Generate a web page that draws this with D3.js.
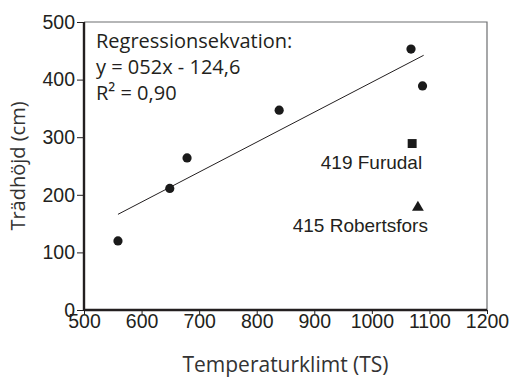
<!doctype html>
<html lang="sv">
<head>
<meta charset="utf-8">
<title>Trädhöjd och temperaturklimat</title>
<style>
    body { margin: 0; background: #fff; }
    svg { display: block; }
    .tick text { font-family: 'Liberation Sans', Arial, sans-serif; font-size: 19.5px; fill: #231f20; }
    .title { font-family: 'Open Sans', 'Noto Sans', sans-serif; font-size: 20px; fill: #333; }
    .eq { font-family: 'Open Sans', 'Noto Sans', sans-serif; font-size: 20px; fill: #231f20; }
    .lab { font-family: 'Liberation Sans', Arial, sans-serif; font-size: 19px; fill: #231f20; }
</style>
</head>
<body>
<svg id="chart"></svg>
<script src="https://cdn.jsdelivr.net/npm/d3@7"></script>
<script>
// provenances (circles)
var tsValues = [559, 649, 679, 839, 1068, 1088];
var heights = [120, 211, 264, 347, 453, 389];

// labelled provenances
var specialNames = ["419 Furudal", "415 Robertsfors"];
var specialTs = [1070, 1080];
var specialHeights = [289, 178];
var specialShapes = ["square", "triangle"];

// regression y = 0.52x - 124.6 over the range of the data
var regSlope = 0.52;
var regIntercept = -124.6;
var regRange = [559, 1090];
var eqLines = ["Regressionsekvation:", "y = 052x - 124,6", "R² = 0,90"];

var xTicks = [500, 600, 700, 800, 900, 1000, 1100, 1200];
var yTicks = [0, 100, 200, 300, 400, 500];

var width = 511, height = 378;
var margin = { top: 22, right: 24, bottom: 68, left: 84 };
var w = width - margin.left - margin.right;
var h = height - margin.top - margin.bottom;

var svg = d3.select("#chart").attr("width", width).attr("height", height);
var g = svg.append("g").attr("transform", "translate(" + margin.left + "," + margin.top + ")");

var x = d3.scaleLinear().domain([500, 1200]).range([0, w]);
var y = d3.scaleLinear().domain([0, 500]).range([h, 0]);

// frame: top and right thin grey
g.append("path")
    .attr("d", "M0,0H" + w + "V" + h)
    .attr("fill", "none")
    .attr("stroke", "#6d6e70")
    .attr("stroke-width", 1.2);

var xAxis = g.append("g")
    .attr("transform", "translate(0," + h + ")")
    .call(d3.axisBottom(x).tickValues(xTicks).tickFormat(d3.format("d")).tickSize(4).tickPadding(0));
var yAxis = g.append("g")
    .call(d3.axisLeft(y).tickValues(yTicks).tickFormat(d3.format("d")).tickSize(7).tickPadding(2));

[xAxis, yAxis].forEach(function (a) {
    a.select(".domain").attr("stroke", "#231f20").attr("stroke-width", 2.4);
    a.selectAll(".tick line").attr("stroke", "#231f20").attr("stroke-width", 1);
});
xAxis.select(".domain").attr("d", "M0,0H" + w);
yAxis.select(".domain").attr("d", "M0,0V" + h);

// regression line
g.append("line")
    .attr("x1", x(regRange[0])).attr("y1", y(regSlope * regRange[0] + regIntercept))
    .attr("x2", x(regRange[1])).attr("y2", y(regSlope * regRange[1] + regIntercept))
    .attr("stroke", "#231f20")
    .attr("stroke-width", 1);

// points
g.selectAll(".pt")
    .data(tsValues)
    .enter().append("circle")
    .attr("cx", function (d) { return x(d); })
    .attr("cy", function (d, i) { return y(heights[i]); })
    .attr("r", 4.6)
    .attr("fill", "#1a1a1a");

var symbols = { square: d3.symbolSquare, triangle: d3.symbolTriangle };
var sizes = { square: 80, triangle: 60 };
g.selectAll(".sp")
    .data(specialTs)
    .enter().append("path")
    .attr("d", function (d, i) { return d3.symbol().type(symbols[specialShapes[i]]).size(sizes[specialShapes[i]])(); })
    .attr("transform", function (d, i) { return "translate(" + x(d) + "," + y(specialHeights[i]) + ")"; })
    .attr("fill", "#1a1a1a");

g.selectAll(".lab")
    .data(specialNames)
    .enter().append("text")
    .attr("class", "lab")
    .attr("x", function (d, i) { return x(specialTs[i]) + 10; })
    .attr("y", function (d, i) { return y(specialHeights[i]) + 25; })
    .attr("text-anchor", "end")
    .text(function (d) { return d; });

// equation text
var eq = g.append("text").attr("class", "eq");
eqLines.forEach(function (t, i) {
    eq.append("tspan").attr("x", 12).attr("y", 26 + i * 26).text(t);
});

// axis titles
svg.append("text")
    .attr("class", "title")
    .attr("x", margin.left + w / 2)
    .attr("y", 372)
    .style("font-size", "21px")
    .attr("text-anchor", "middle")
    .text("Temperaturklimt (TS)");

svg.append("text")
    .attr("class", "title")
    .attr("transform", "translate(25," + (margin.top + h / 2) + ") rotate(-90)")
    .attr("text-anchor", "middle")
    .text("Trädhöjd (cm)");
</script>
</body>
</html>
